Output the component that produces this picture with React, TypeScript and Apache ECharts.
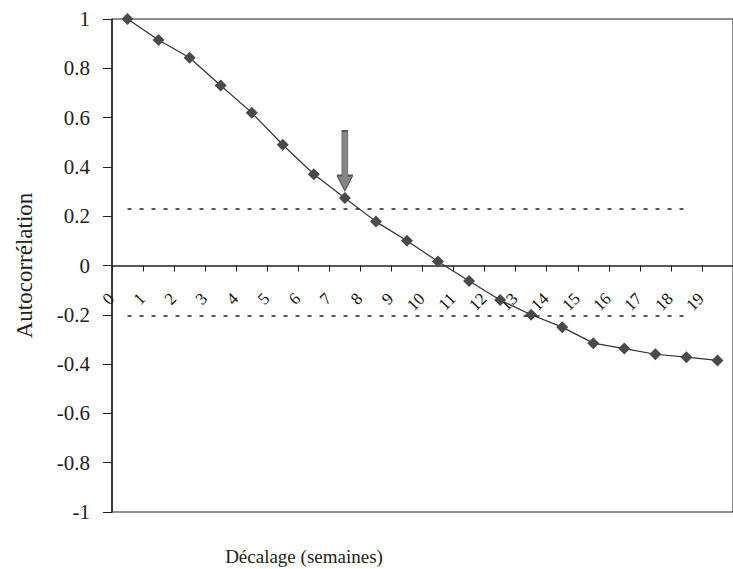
import React, { useEffect, useRef } from "react";
import * as echarts from "echarts";

const lags: string[] = ["0","1","2","3","4","5","6","7","8","9","10","11","12","13","14","15","16","17","18","19"];
const autocorr: number[] = [1.0, 0.915, 0.843, 0.73, 0.62, 0.49, 0.37, 0.274, 0.178, 0.10, 0.016, -0.063, -0.14, -0.20, -0.25, -0.315, -0.337, -0.36, -0.372, -0.385];
const upperBound = 0.23;
const lowerBound = -0.205;
const boundEndLag = 18;
const arrowLag = 7;
const yTitle = "Autocorrélation";
const xTitle = "Décalage (semaines)";

const SERIF = "'Liberation Serif', 'Times New Roman', serif";
const GRID_TOP = 19;
const GRID_BOTTOM = 57;
const H = 569;

export default function App() {
  const ref = useRef<HTMLDivElement>(null);
  useEffect(() => {
    if (!ref.current) return;
    const chart = echarts.init(ref.current, null, { renderer: "svg" });
    const plotH = H - GRID_TOP - GRID_BOTTOM;
    chart.setOption({
      animation: false,
      backgroundColor: "#ffffff",
      grid: {
        left: 112,
        right: -9,
        top: GRID_TOP,
        bottom: GRID_BOTTOM,
        show: true,
        borderColor: "#222",
        borderWidth: 1,
        backgroundColor: "transparent",
      },
      xAxis: {
        type: "category",
        data: lags,
        boundaryGap: true,
        offset: -plotH / 2,
        axisLine: { onZero: false, lineStyle: { color: "#222", width: 1.6 } },
        axisTick: { show: true, inside: false, length: 6, lineStyle: { color: "#222" } },
        axisLabel: {
          interval: 0,
          rotate: 45,
          margin: 14,
          padding: [0, 23, 0, 0],
          fontFamily: SERIF,
          fontSize: 17,
          color: "#111",
        },
        splitLine: { show: false },
      },
      yAxis: {
        type: "value",
        min: -1,
        max: 1,
        interval: 0.2,
        name: yTitle,
        nameLocation: "middle",
        nameRotate: 90,
        nameGap: 76,
        nameTextStyle: { fontFamily: SERIF, fontSize: 23, color: "#222" },
        axisLine: { show: true, lineStyle: { color: "#222", width: 1.5 } },
        axisTick: { show: true, inside: false, length: 9, lineStyle: { color: "#222" } },
        axisLabel: {
          margin: 22,
          fontFamily: SERIF,
          fontSize: 21,
          color: "#222",
        },
        splitLine: { show: false },
      },
      graphic: [
        {
          type: "text",
          x: 304,
          y: 556,
          style: {
            text: xTitle,
            fontFamily: SERIF,
            fontSize: 19,
            fill: "#222",
            textAlign: "center",
            textVerticalAlign: "middle",
          },
        },
      ],
      series: [
        {
          type: "line",
          data: autocorr,
          symbol: "diamond",
          symbolSize: 12,
          lineStyle: { color: "#333", width: 1.2 },
          itemStyle: { color: "#4a4a4a" },
          markLine: {
            silent: true,
            symbol: ["none", "none"],
            label: { show: false },
            lineStyle: { color: "#222", type: [4, 8], width: 1.5 },
            data: [
              [{ coord: [0, upperBound] }, { coord: [boundEndLag, upperBound] }],
              [{ coord: [0, lowerBound] }, { coord: [boundEndLag, lowerBound] }],
            ],
          },
          markPoint: {
            silent: true,
            label: { show: false },
            data: [
              {
                coord: [arrowLag, autocorr[arrowLag]],
                symbol: "path://M5,0 L11,0 L11,46 L16,46 L8,62 L0,46 L5,46 Z",
                symbolSize: [16, 60],
                symbolOffset: [0, -37],
                itemStyle: { color: "#858585", borderColor: "#555", borderWidth: 1 },
              },
            ],
          },
        },
      ],
    });
    return () => chart.dispose();
  }, []);
  return (
    <div
      ref={ref}
      style={{ position: "fixed", left: 0, top: 0, width: 733, height: 569 }}
    />
  );
}
